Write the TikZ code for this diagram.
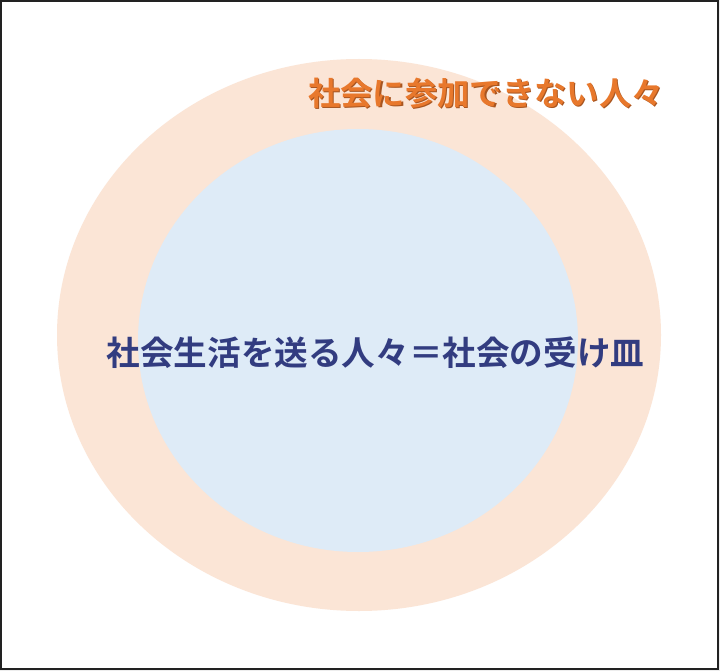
\documentclass[tikz,border=0pt]{standalone}
\usepackage{fontspec}
\newfontfamily\cjk{Noto Sans CJK JP Bold}
\definecolor{peach}{HTML}{FBE5D6}
\definecolor{paleblue}{HTML}{DEEBF7}
\definecolor{orangetxt}{HTML}{E8782C}
\definecolor{orangeshadow}{HTML}{A85520}
\definecolor{navytxt}{HTML}{323C80}
\definecolor{framegray}{HTML}{222222}
\tikzset{
  ring/.style={draw=none},
  lbl/.style={inner sep=0pt},
  outerfont/.style={font=\cjk\fontsize{32.3}{32.3}\selectfont},
  innerfont/.style={font=\cjk\fontsize{33.6}{33.6}\selectfont},
}
\begin{document}
\begin{tikzpicture}[x=1pt,y=-1pt]
\useasboundingbox (0,0) rectangle (720,671);
\fill[white] (0,0) rectangle (720,671);
\fill[black!7] (718,0) rectangle (720,671);
\fill[black!7] (0,669) rectangle (720,671);
\draw[framegray, line width=1.6pt] (0.8,0.8) rectangle (717.8,669.2);
\fill[peach, ring] (359,335) ellipse [x radius=302, y radius=276];
\fill[paleblue, ring] (358,340.5) ellipse [x radius=220, y radius=211.5];
\node[lbl, outerfont, text=orangeshadow] (outershadow) at (487.2,94.2) {社会に参加できない人々};
\node[lbl, outerfont, text=orangetxt] (outer) at (486,93) {社会に参加できない人々};
\node[lbl, innerfont, text=navytxt] (inner) at (375.5,352.5) {社会生活を送る人々＝社会の受け皿};
\end{tikzpicture}
\end{document}
